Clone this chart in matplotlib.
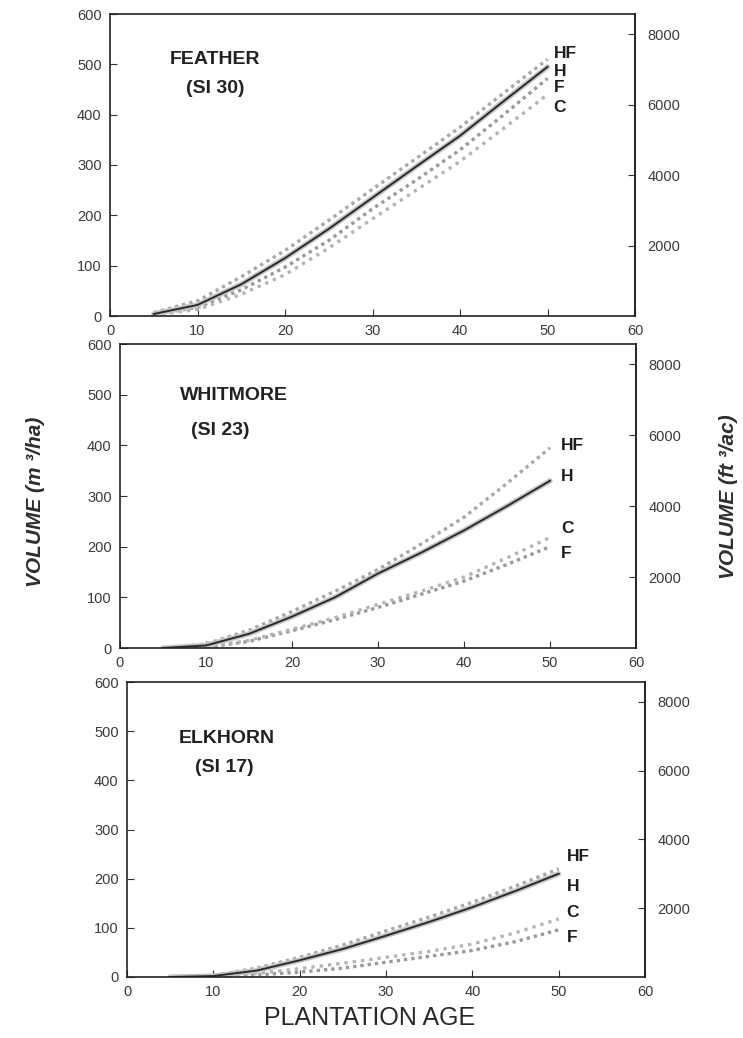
import matplotlib
matplotlib.use("Agg")
import matplotlib.pyplot as plt

plt.rcParams['font.family'] = ['Liberation Sans', 'DejaVu Sans']

ages = [5, 10, 15, 20, 25, 30, 35, 40, 45, 50]

# FEATHER (SI 30)
feather_HF = [7, 30, 78, 130, 190, 252, 313, 375, 443, 510]
feather_H = [4, 22, 63, 115, 173, 235, 297, 358, 427, 495]
feather_F = [3, 17, 52, 97, 150, 213, 270, 330, 400, 472]
feather_C = [2, 13, 43, 82, 135, 193, 250, 307, 373, 440]

# WHITMORE (SI 23)
whitmore_HF = [0, 8, 35, 72, 112, 155, 205, 258, 325, 395]
whitmore_H = [0, 5, 28, 62, 100, 147, 188, 232, 280, 330]
whitmore_C = [0, 2, 15, 37, 60, 86, 112, 140, 178, 218]
whitmore_F = [0, 1, 13, 34, 56, 80, 106, 132, 165, 200]

# ELKHORN (SI 17)
elkhorn_HF = [0, 3, 18, 40, 65, 94, 122, 152, 185, 220]
elkhorn_H = [0, 2, 13, 34, 57, 84, 112, 142, 175, 210]
elkhorn_C = [0, 1, 7, 17, 28, 40, 52, 67, 90, 118]
elkhorn_F = [0, 0.5, 4, 10, 18, 30, 42, 54, 72, 96]

site_names = ["FEATHER", "WHITMORE", "ELKHORN"]
site_index = ["(SI 30)", "(SI 23)", "(SI 17)"]
x_ticks = [0, 10, 20, 30, 40, 50, 60]
y_ticks = [0, 100, 200, 300, 400, 500, 600]
right_ticks = [2000, 4000, 6000, 8000]
M3HA_TO_FT3AC = 14.2913

panels = [
    dict(HF=feather_HF, H=feather_H, F=feather_F, C=feather_C,
         labels=[("HF", 522), ("H", 486), ("F", 453), ("C", 414)], lab_x=50.7,
         rect=(110, 14, 635, 316), name_pos=(0.20, 0.848), si_pos=(0.20, 0.752)),
    dict(HF=whitmore_HF, H=whitmore_H, F=whitmore_F, C=whitmore_C,
         labels=[("HF", 400), ("H", 338), ("C", 236), ("F", 187)], lab_x=51.3,
         rect=(120, 344, 636, 648), name_pos=(0.221, 0.83), si_pos=(0.194, 0.716)),
    dict(HF=elkhorn_HF, H=elkhorn_H, F=elkhorn_F, C=elkhorn_C,
         labels=[("HF", 245), ("H", 184), ("C", 131), ("F", 80)], lab_x=50.9,
         rect=(127, 682, 645, 977), name_pos=(0.193, 0.81), si_pos=(0.188, 0.71)),
]

W, H = 743, 1038
fig = plt.figure(figsize=(W / 100, H / 100), dpi=100)

for i, p in enumerate(panels):
    l, t, r, b = p["rect"]
    ax = fig.add_axes([l / W, 1 - b / H, (r - l) / W, (b - t) / H])
    ax.set_xlim(0, 60)
    ax.set_ylim(0, 600)
    # stippled grey bands
    ax.plot(ages, p["HF"], color="#a8a8a8", lw=2.4, ls=(0, (1, 1.2)))
    ax.plot(ages, p["F"], color="#9a9a9a", lw=2.4, ls=(0, (1, 1.2)))
    ax.plot(ages, p["C"], color="#b5b5b5", lw=2.4, ls=(0, (1, 1.5)))
    ax.plot(ages, p["H"], color="#c4c4c4", lw=3.8, solid_capstyle="round")
    ax.plot(ages, p["H"], color="#2a2a2a", lw=1.4)
    for lab, yv in p["labels"]:
        ax.text(p["lab_x"], yv, lab, fontsize=12.5, fontweight="bold",
                color="#1e1e1e", ha="left", va="center")
    ax.text(*p["name_pos"], site_names[i], transform=ax.transAxes, fontsize=14,
            fontweight="bold", color="#222", ha="center", va="center")
    ax.text(*p["si_pos"], site_index[i], transform=ax.transAxes, fontsize=14,
            fontweight="bold", color="#222", ha="center", va="center")
    ax.set_xticks(x_ticks)
    ax.set_yticks(y_ticks)
    ax.tick_params(direction="in", length=5, labelsize=10.5, colors="#333",
                   labelcolor="#3a3a3a", pad=6)
    for s in ax.spines.values():
        s.set_color("#222")
        s.set_linewidth(1.2)
    sec = ax.secondary_yaxis("right", functions=(lambda m: m * M3HA_TO_FT3AC,
                                                 lambda f: f / M3HA_TO_FT3AC))
    sec.set_yticks(right_ticks)
    sec.tick_params(direction="in", length=5, labelsize=10.5, colors="#333",
                    labelcolor="#3a3a3a", pad=9)
    sec.spines["right"].set_color("#222")
    sec.spines["right"].set_linewidth(1.2)

fig.text(36 / W, 1 - 502 / H, "VOLUME (m \u00b3/ha)",
         rotation=90, ha="center", va="center", fontsize=15,
         fontweight="bold", fontstyle="italic", color="#2e2e2e")
fig.text(728 / W, 1 - 497 / H, "VOLUME (ft \u00b3/ac)",
         rotation=90, ha="center", va="center", fontsize=15,
         fontweight="bold", fontstyle="italic", color="#2e2e2e")
fig.text(370 / W, 1 - 1018 / H, "PLANTATION AGE", ha="center", va="center",
         fontsize=18, color="#2a2a2a")

fig.savefig("out.png", dpi=100, facecolor="white")
